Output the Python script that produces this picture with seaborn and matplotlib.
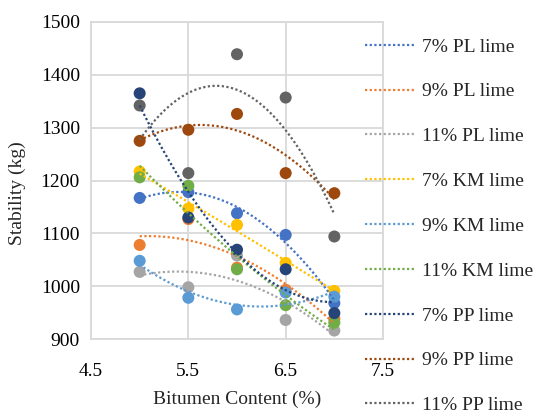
import numpy as np
import pandas as pd
import matplotlib
matplotlib.use("Agg")
import matplotlib.pyplot as plt
from matplotlib.lines import Line2D
import seaborn as sns

# Bitumen content (%) and Marshall stability (kg) for each lime blend
bitumen = [5.0, 5.5, 6.0, 6.5, 7.0]
series_names = ["7% PL lime", "9% PL lime", "11% PL lime",
                "7% KM lime", "9% KM lime", "11% KM lime",
                "7% PP lime", "9% PP lime", "11% PP lime"]
pl_7 = [1167, 1178, 1138, 1097, 968]
pl_9 = [1078, 1127, 1035, 993, 938]
pl_11 = [1027, 998, 1058, 936, 916]
km_7 = [1217, 1147, 1116, 1044, 991]
km_9 = [1048, 978, 956, 988, 980]
km_11 = [1206, 1190, 1032, 964, 931]
pp_7 = [1365, 1130, 1069, 1032, 949]
pp_9 = [1275, 1296, 1326, 1214, 1176]
pp_11 = [1342, 1214, 1439, 1357, 1094]
stability = [pl_7, pl_9, pl_11, km_7, km_9, km_11, pp_7, pp_9, pp_11]

colors = ["#4472C4", "#ED7D31", "#A5A5A5", "#FFC000", "#5B9BD5",
          "#70AD47", "#264478", "#9E480E", "#636363"]

x_ticks = [4.5, 5.5, 6.5, 7.5]
x_tick_labels = ["4.5", "5.5", "6.5", "7.5"]
y_ticks = [900, 1000, 1100, 1200, 1300, 1400, 1500]

df = pd.DataFrame({
    "Bitumen": np.tile(bitumen, len(series_names)),
    "Stability": np.concatenate(stability),
    "Mix": np.repeat(series_names, len(bitumen)),
})

sns.set_theme(style="white")
plt.rcParams["font.family"] = ["Liberation Serif", "DejaVu Serif"]

fig = plt.figure(figsize=(5.37, 4.16), dpi=100)
ax = fig.add_axes([91 / 537, 1 - 339 / 416, (383 - 91) / 537, (339 - 22) / 416])

# markers
sns.scatterplot(data=df, x="Bitumen", y="Stability", hue="Mix",
                palette=colors, hue_order=series_names, s=75,
                edgecolor="none", linewidth=0, legend=False, ax=ax, zorder=3)

# second-order polynomial trend line for each mix
dotted = (0, (1, 1.1))
for name, col in zip(series_names, colors):
    sub = df[df["Mix"] == name]
    sns.regplot(data=sub, x="Bitumen", y="Stability", order=2, ci=None,
                scatter=False, truncate=True, ax=ax, color=col,
                line_kws=dict(lw=1.6, linestyle=dotted, zorder=4))

ax.set_xlim(4.5, 7.5)
ax.set_ylim(900, 1500)
ax.set_xticks(x_ticks)
ax.set_xticklabels(x_tick_labels)
ax.set_yticks(y_ticks)
ax.grid(True, color="#D9D9D9", lw=1.3, zorder=0)
ax.set_axisbelow(True)
for sp in ax.spines.values():
    sp.set_color("#D9D9D9")
    sp.set_linewidth(1.3)
ax.tick_params(axis="both", labelsize=14, colors="black", length=0)
ax.tick_params(axis="x", pad=17)
ax.tick_params(axis="y", pad=8)
ax.set_xlabel("Bitumen Content (%)", fontsize=14, labelpad=8)
ax.set_ylabel("Stability (kg)", fontsize=14)
ax.yaxis.set_label_coords(-0.222, 0.46)

handles = [Line2D([], [], color=c, lw=1.6, linestyle=dotted) for c in colors]
fig.legend(handles, series_names, loc="upper left",
           bbox_to_anchor=(365 / 537, 1 - 38 / 416), frameon=False,
           fontsize=14, handlelength=2.5, handletextpad=0.45,
           labelspacing=1.4, borderaxespad=0, borderpad=0)

fig.savefig("out.png", dpi=100)
